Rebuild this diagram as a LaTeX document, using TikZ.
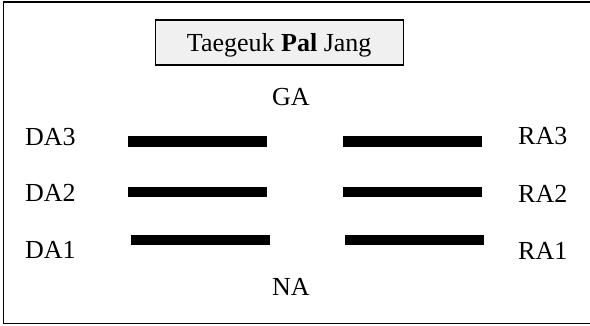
\documentclass[tikz,border=0pt]{standalone}
\usepackage{fontspec}
\setmainfont{Liberation Serif}
\begin{document}
\begin{tikzpicture}[x=1pt,y=-1pt,
  lbl/.style={inner sep=0pt,font=\fontsize{26}{30}\selectfont},
  titlebox/.style={draw=black,line width=1.4pt,fill=black!6,inner sep=0pt,
    minimum width=248pt,minimum height=45pt,text height=18.4pt,text depth=0pt,
    font=\fontsize{26}{30}\selectfont},
  bar/.style={fill=black,inner sep=0pt,minimum width=139pt,minimum height=10.5pt},
  frame/.style={draw=black,line width=1.6pt}]
\useasboundingbox (0,0) rectangle (590,326);
\clip (0,0) rectangle (590,326);
\draw[frame] (3.3,2.3) rectangle (620,323.5);
\node[titlebox] (title) at (279.2,42.5) {Taegeuk \textbf{Pal} Jang};
\node[lbl,anchor=base] (ga) at (291,106) {GA};
\node[lbl,anchor=base] (na) at (291,295) {NA};
\node[lbl,anchor=base west] (da3) at (25,146) {DA3};
\node[lbl,anchor=base west] (da2) at (25,202) {DA2};
\node[lbl,anchor=base west] (da1) at (25,259) {DA1};
\node[lbl,anchor=base west] (ra3) at (518,145) {RA3};
\node[lbl,anchor=base west] (ra2) at (518,203) {RA2};
\node[lbl,anchor=base west] (ra1) at (518,260) {RA1};
\node[bar] (l3) at (197.5,141.7) {};
\node[bar] (l2) at (197.5,192) {};
\node[bar] (l1) at (200.2,240) {};
\node[bar] (r3) at (412.2,141.7) {};
\node[bar] (r2) at (412.2,192) {};
\node[bar] (r1) at (414.5,240) {};
\end{tikzpicture}
\end{document}
